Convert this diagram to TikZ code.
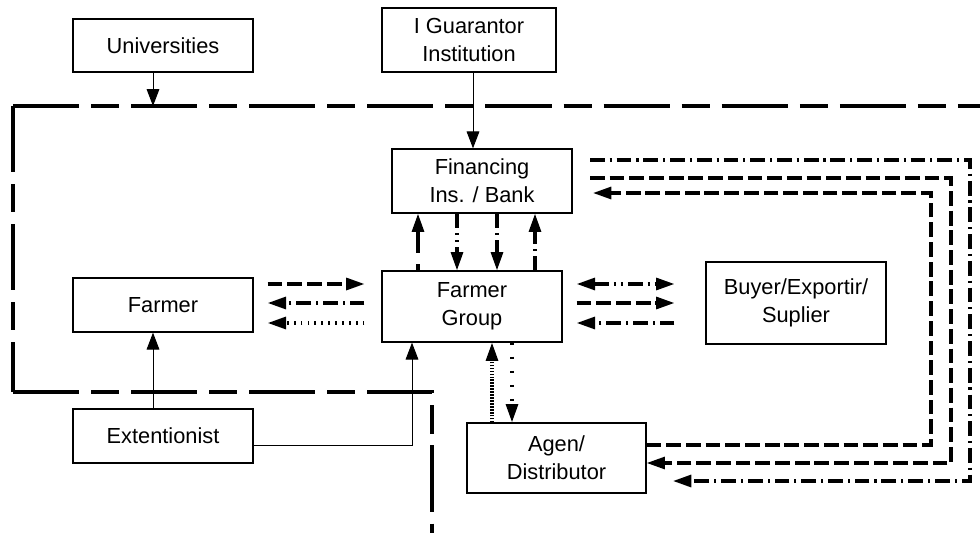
\documentclass[tikz,border=0pt]{standalone}
\usepackage{fontspec}
\setmainfont{Liberation Sans}
\usetikzlibrary{arrows.meta}

\begin{document}
\begin{tikzpicture}[x=0.025cm,y=-0.025cm,
	boite/.style={draw,line width=0.9pt,align=center,inner sep=0pt,minimum width=4.5cm,font=\fontsize{15.5}{20}\selectfont},
	fine/.style={line width=0.7pt,>={Triangle[length=12pt,width=9pt]},->},
	grosse/.style={line width=2.2pt,>={Triangle[length=13pt,width=8.5pt]},->},
	tirets/.style={dash pattern=on 10.5pt off 3.5pt},
	tiretpoint/.style={dash pattern=on 10.5pt off 3.5pt on 1.5pt off 3.5pt},
	tiretdeuxpoints/.style={dash pattern=on 10.5pt off 3.5pt on 1.5pt off 3.5pt on 1.5pt off 3.5pt},
	longtirets/.style={dash pattern=on 4.5pt off 8pt on 40pt off 8pt},
	points/.style={dash pattern=on 1.3pt off 3.6pt},
	pointsserres/.style={dash pattern=on 1.1pt off 1pt},
	pointslaches/.style={dash pattern=on 1.6pt off 8.4pt},
	frontiere/.style={line width=2.2pt,dash pattern=on 47pt off 8.5pt on 20pt off 8.5pt}]
%					Cadre :
					\useasboundingbox (0,0) rectangle (980,533);
%					Boîtes :
					\node[boite,minimum height=1.325cm] (universites) at (163,45.5) {Universities};
					\node[boite,minimum width=4.35cm,minimum height=1.6cm] (garant) at (469,40) {I Guarantor\\Institution};
					\node[boite,minimum height=1.6cm] (banque) at (482,181) {Financing\\Ins. / Bank};
					\node[boite,minimum height=1.775cm] (groupe) at (472,306.5) {Farmer\\Group};
					\node[boite,minimum height=1.35cm] (fermier) at (163,305) {Farmer};
					\node[boite,minimum height=2.05cm] (acheteur) at (796,303) {Buyer/Exportir/\\Suplier};
					\node[boite,minimum height=1.35cm] (vulgarisateur) at (163,436) {Extentionist};
					\node[boite,minimum width=4.475cm,minimum height=1.75cm] (agent) at (556.5,458) {Agen/\\Distributor};
%					Points de passage :
					\coordinate (xu) at (153,106);
					\coordinate (xg) at (473,0);
					\coordinate (xe) at (412,0);
					\coordinate (v1) at (418,0);
					\coordinate (v2) at (457,0);
					\coordinate (v3) at (497,0);
					\coordinate (v4) at (535,0);
					\coordinate (v5) at (492,0);
					\coordinate (v6) at (512,0);
					\coordinate (h1) at (0,284);
					\coordinate (h2) at (0,303);
					\coordinate (h3) at (0,323);
					\coordinate (a1) at (590,160);
					\coordinate (a2) at (590,178);
					\coordinate (a3) at (593,193);
					\coordinate (b1) at (673,481);
					\coordinate (b2) at (0,463);
					\coordinate (b3) at (0,445);
%					Tracé de la frontière :
					\draw[frontiere] (13,106) -- (980,106);
					\draw[frontiere] (13,106) -- (13,392);
					\draw[frontiere] (13,392) -- (432,392) -- (432,533);
%					Liens fins :
					\draw[fine] (universites.south -| xu) -- (xu);
					\draw[fine] (garant.south -| xg) -- (banque.north -| xg);
					\draw[fine] (vulgarisateur.north -| xu) -- (fermier.south -| xu);
					\draw[fine] (vulgarisateur.east |- b3) -| (groupe.south -| xe);
%					Banque <-> groupe :
					\draw[grosse,longtirets] (groupe.north -| v1) -- (banque.south -| v1);
					\draw[grosse,tiretdeuxpoints] (banque.south -| v2) -- (groupe.north -| v2);
					\draw[grosse,tiretpoint] (banque.south -| v3) -- (groupe.north -| v3);
					\draw[grosse,tiretpoint] (groupe.north -| v4) -- (banque.south -| v4);
%					Fermier <-> groupe :
					\draw[grosse,tirets,shorten <=10pt,shorten >=12pt] (fermier.east |- h1) -- (groupe.west |- h1);
					\draw[grosse,tiretpoint,shorten <=12pt,shorten >=10pt] (groupe.west |- h2) -- (fermier.east |- h2);
					\draw[grosse,points,shorten <=12pt,shorten >=10pt] (groupe.west |- h3) -- (fermier.east |- h3);
%					Groupe <-> acheteur :
					\draw[grosse,<->,tiretdeuxpoints,shorten <=10pt,shorten >=22pt] (groupe.east |- h1) -- (acheteur.west |- h1);
					\draw[grosse,tirets,shorten <=10pt,shorten >=22pt] (groupe.east |- h2) -- (acheteur.west |- h2);
					\draw[grosse,tiretpoint,shorten <=22pt,shorten >=10pt] (acheteur.west |- h3) -- (groupe.east |- h3);
%					Groupe <-> agent :
					\draw[grosse,pointsserres] (agent.north -| v5) -- (groupe.south -| v5);
					\draw[grosse,pointslaches] (groupe.south -| v6) -- (agent.north -| v6);
%					Boucles à droite :
					\draw[grosse,tiretpoint] (a1) -| (970,481) -- (b1);
					\draw[grosse,tirets] (a2) -| (951,463) -- (agent.east |- b2);
					\draw[grosse,tirets] (agent.east |- b3) -| (931,193) -- (a3);
				\end{tikzpicture}
\end{document}
